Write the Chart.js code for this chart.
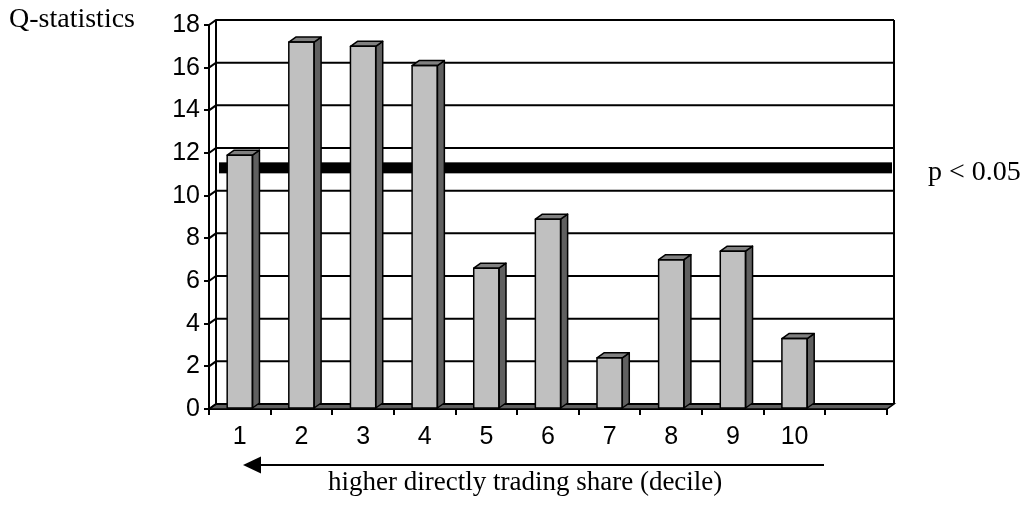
<!DOCTYPE html>
<html><head><meta charset="utf-8">
<script src="https://cdn.jsdelivr.net/npm/chart.js@4/dist/chart.umd.min.js"></script>
<style>html,body{margin:0;padding:0;background:#fff;}#wrap{position:relative;width:1026px;height:508px;}</style>
</head><body><div id="wrap"><canvas id="c" width="1026" height="508"></canvas></div>
<script>
const categories = ['1','2','3','4','5','6','7','8','9','10',''];
const qValues = [11.9, 17.2, 17.0, 16.1, 6.6, 8.9, 2.4, 7.0, 7.4, 3.3, null];
const yTicks = [0,2,4,6,8,10,12,14,16,18];
const criticalValue = 11.07;
const yTitle = 'Q-statistics';
const xTitle = 'higher directly trading share (decile)';
const criticalLabel = 'p < 0.05';

const DX = 7, DY = -5;
const SANS = '"Liberation Sans Narrow", "Arial Narrow", "Liberation Sans", Arial, sans-serif';
const SERIF = '"Liberation Serif", "Times New Roman", serif';

const depthPlugin = {
  id: 'depth',
  beforeDatasetsDraw(chart) {
    const {ctx, chartArea: a, scales: {y}} = chart;
    ctx.save();
    ctx.strokeStyle = '#000';
    // floor
    ctx.fillStyle = '#606060';
    ctx.lineWidth = 1.5;
    ctx.beginPath();
    ctx.moveTo(a.left, a.bottom); ctx.lineTo(a.right, a.bottom);
    ctx.lineTo(a.right + DX, a.bottom + DY); ctx.lineTo(a.left + DX, a.bottom + DY);
    ctx.closePath(); ctx.fill(); ctx.stroke();
    // grid lines on side wall and back wall
    ctx.lineWidth = 2;
    yTicks.forEach(v => {
      const py = y.getPixelForValue(v);
      ctx.beginPath();
      ctx.moveTo(a.left, py);
      ctx.lineTo(a.left + DX, py + DY);
      ctx.lineTo(a.right + DX, py + DY);
      ctx.stroke();
    });
    // back wall edges
    ctx.beginPath();
    ctx.moveTo(a.left + DX, a.top + DY); ctx.lineTo(a.left + DX, a.bottom + DY);
    ctx.moveTo(a.right + DX, a.top + DY); ctx.lineTo(a.right + DX, a.bottom + DY);
    ctx.stroke();
    // critical value line
    const cy = y.getPixelForValue(criticalValue) + DY;
    ctx.fillStyle = '#000';
    ctx.fillRect(a.left + DX + 3, cy - 5.5, (a.right - a.left) - 5, 11);
    ctx.restore();
  },
  afterDatasetsDraw(chart) {
    const {ctx} = chart;
    const meta = chart.getDatasetMeta(0);
    ctx.save();
    ctx.strokeStyle = '#000';
    ctx.lineWidth = 1.5;
    ctx.lineJoin = 'round';
    meta.data.forEach((bar, i) => {
      if (qValues[i] == null) return;
      const p = bar.getProps(['x','y','base','width'], true);
      const l = p.x - p.width / 2, r = p.x + p.width / 2;
      // side face
      ctx.fillStyle = '#606060';
      ctx.beginPath();
      ctx.moveTo(r, p.y); ctx.lineTo(r + DX, p.y + DY);
      ctx.lineTo(r + DX, p.base + DY); ctx.lineTo(r, p.base);
      ctx.closePath(); ctx.fill(); ctx.stroke();
      // top face
      ctx.fillStyle = '#808080';
      ctx.beginPath();
      ctx.moveTo(l, p.y); ctx.lineTo(l + DX, p.y + DY);
      ctx.lineTo(r + DX, p.y + DY); ctx.lineTo(r, p.y);
      ctx.closePath(); ctx.fill(); ctx.stroke();
      // front outline
      ctx.strokeRect(l, p.y, p.width, p.base - p.y);
    });
    ctx.restore();
  },
  afterDraw(chart) {
    const {ctx} = chart;
    ctx.save();
    ctx.fillStyle = '#000';
    ctx.textBaseline = 'alphabetic';
    ctx.textAlign = 'left';
    ctx.font = '28px ' + SERIF;
    ctx.fillText(yTitle, 9, 27);
    ctx.fillText(criticalLabel, 928, 180);
    ctx.font = '27px ' + SERIF;
    ctx.fillText(xTitle, 328, 490);
    // arrow
    ctx.strokeStyle = '#000';
    ctx.lineWidth = 2;
    ctx.beginPath(); ctx.moveTo(824, 465); ctx.lineTo(258, 465); ctx.stroke();
    ctx.beginPath(); ctx.moveTo(243, 465); ctx.lineTo(261, 456.5); ctx.lineTo(261, 473.5); ctx.closePath(); ctx.fill();
    ctx.restore();
  }
};

new Chart(document.getElementById('c'), {
  type: 'bar',
  data: {
    labels: categories,
    datasets: [{
      data: qValues,
      backgroundColor: '#C0C0C0',
      borderWidth: 0,
      barPercentage: 0.41,
      categoryPercentage: 1.0
    }]
  },
  options: {
    responsive: false,
    animation: false,
    devicePixelRatio: 1,
    layout: {padding: {left: 0, top: 25, right: 139, bottom: 0}},
    plugins: {legend: {display: false}, tooltip: {enabled: false}, title: {display: false}},
    scales: {
      y: {
        min: 0, max: 18,
        afterFit(s) { s.width = 209; },
        ticks: {stepSize: 2, color: '#000', padding: 4, font: {family: SANS, size: 25}},
        grid: {drawOnChartArea: false, drawTicks: true, tickLength: 5, color: '#000', lineWidth: 2},
        border: {display: true, color: '#000', width: 2}
      },
      x: {
        afterFit(s) { s.height = 99; },
        offset: true,
        ticks: {color: '#000', padding: 7, autoSkip: false, maxRotation: 0, font: {family: SANS, size: 25}},
        grid: {offset: true, drawOnChartArea: false, drawTicks: true, tickLength: 6, color: '#000', lineWidth: 2},
        border: {display: true, color: '#000', width: 2}
      }
    }
  },
  plugins: [depthPlugin]
});
</script>
</body></html>
